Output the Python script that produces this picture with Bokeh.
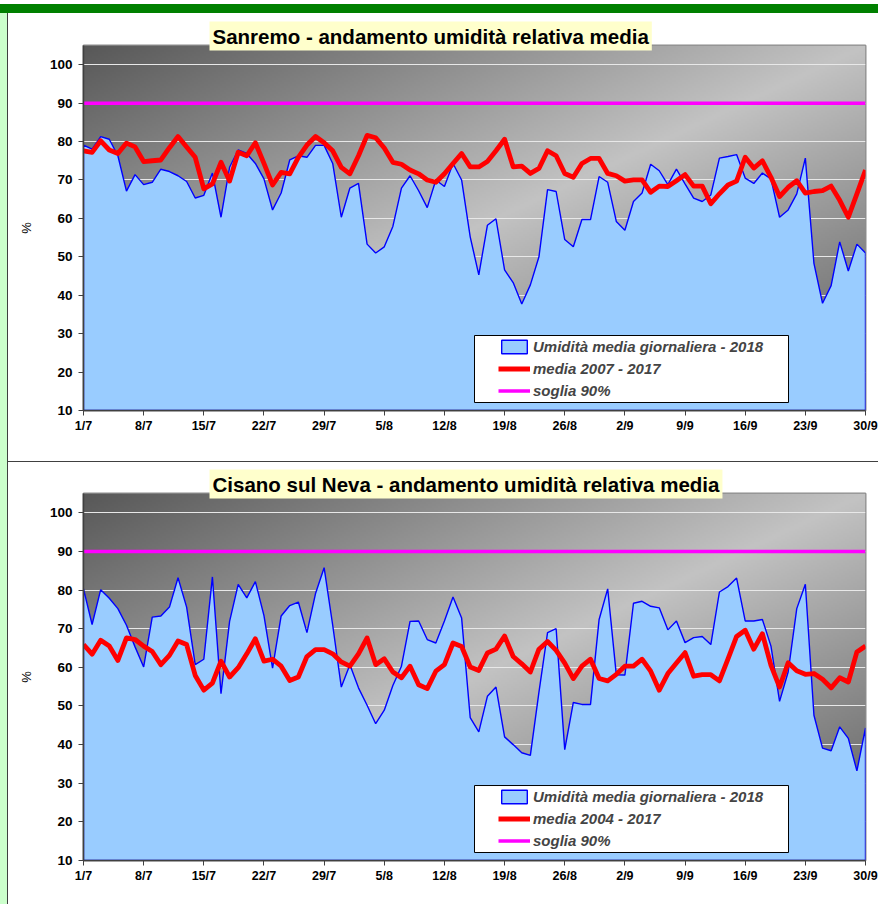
import numpy as np
from bokeh.plotting import figure
from bokeh.models import (FixedTicker, Title, Legend, LegendItem, BoxAnnotation,
                          Div, Range1d)
from bokeh.layouts import column, row
from bokeh.embed import file_html
from bokeh.resources import INLINE

# ---------------- data ----------------
days = list(range(92))  # 1/7 ... 30/9
tick_days = [0, 7, 14, 21, 28, 35, 42, 49, 56, 63, 70, 77, 84, 91]
tick_labels = ["1/7", "8/7", "15/7", "22/7", "29/7", "5/8", "12/8", "19/8",
               "26/8", "2/9", "9/9", "16/9", "23/9", "30/9"]
y_ticks = [10, 20, 30, 40, 50, 60, 70, 80, 90, 100]
soglia = 90

sanremo_2018 = [79.1, 78.0, 81.3, 80.6, 76.3, 67.1, 71.4, 68.8, 69.4, 72.8,
                72.2, 71.1, 69.6, 65.3, 66.0, 71.8, 60.3, 73.3, 77.8, 76.9,
                74.3, 70.3, 62.2, 66.6, 75.2, 76.3, 75.9, 79.0, 79.0, 74.3,
                60.3, 67.9, 69.1, 53.3, 51.0, 52.6, 57.9, 67.9, 71.1, 67.2,
                62.8, 70.0, 68.3, 74.3, 70.0, 55.2, 45.3, 58.2, 59.9, 46.6,
                43.3, 37.7, 42.7, 50.0, 67.5, 67.0, 54.5, 52.6, 59.7, 59.7,
                70.9, 69.4, 59.2, 56.9, 64.4, 66.6, 74.1, 72.4, 68.8, 72.8,
                69.0, 65.3, 64.4, 66.1, 75.7, 76.1, 76.6, 70.5, 69.1, 71.8,
                70.3, 60.3, 62.2, 66.4, 75.7, 48.3, 37.9, 42.5, 53.9, 46.3,
                53.3, 51.0]
sanremo_media = [77.6, 77.2, 80.2, 77.8, 76.9, 79.6, 78.6, 74.8, 75.0, 75.2,
                 78.4, 81.3, 78.6, 75.9, 67.7, 69.0, 74.6, 69.7, 77.2, 76.3,
                 79.7, 74.3, 68.7, 72.0, 71.6, 75.9, 79.1, 81.3, 79.7, 77.6,
                 73.3, 71.6, 76.3, 81.6, 81.0, 78.3, 74.6, 74.1, 72.6, 71.6,
                 70.0, 69.4, 71.6, 74.3, 76.9, 73.4, 73.4, 74.8, 77.6, 80.6,
                 73.4, 73.6, 71.7, 73.0, 77.6, 76.3, 71.7, 70.7, 74.3, 75.6,
                 75.6, 71.7, 71.1, 69.7, 70.0, 70.0, 66.8, 68.4, 68.3, 69.8,
                 71.4, 68.4, 68.4, 63.8, 66.4, 68.7, 69.7, 75.9, 73.1, 75.0,
                 70.7, 65.7, 68.1, 69.8, 66.6, 67.0, 67.2, 68.4, 64.7, 60.3,
                 66.4, 72.6]
cisano_2018 = [80.3, 71.1, 80.1, 77.9, 75.2, 70.9, 65.3, 60.1, 73.0, 73.3,
               75.6, 83.2, 75.6, 60.7, 62.1, 83.4, 53.2, 71.9, 81.5, 78.0,
               82.2, 73.4, 59.8, 73.3, 76.0, 76.9, 69.0, 79.1, 85.8, 70.9,
               54.9, 60.7, 54.7, 50.2, 45.4, 48.9, 55.3, 60.3, 71.9, 72.0,
               67.2, 66.3, 72.0, 78.2, 72.8, 47.0, 43.3, 52.5, 54.9, 42.0,
               40.0, 37.9, 37.2, 53.6, 69.0, 70.0, 38.7, 50.9, 50.4, 50.4,
               72.4, 80.3, 58.1, 58.0, 76.6, 77.1, 75.8, 75.4, 69.7, 72.0,
               66.4, 67.7, 68.0, 65.9, 79.5, 80.9, 83.1, 72.0, 72.0, 72.4,
               65.5, 51.2, 58.8, 75.2, 81.5, 47.6, 39.1, 38.4, 44.6, 41.6,
               33.2, 44.3]
cisano_media = [65.9, 63.4, 67.0, 65.5, 61.8, 67.6, 67.2, 65.5, 64.1, 60.7,
                63.1, 66.8, 65.9, 57.9, 54.1, 55.9, 61.6, 57.5, 59.9, 63.5,
                67.4, 61.6, 62.1, 60.3, 56.6, 57.5, 62.8, 64.6, 64.6, 63.5,
                61.4, 60.3, 63.5, 67.6, 60.7, 62.2, 58.8, 57.3, 60.3, 55.5,
                54.5, 59.0, 60.7, 66.3, 65.4, 60.1, 59.2, 63.7, 64.7, 68.1,
                62.8, 60.9, 58.8, 64.7, 66.7, 64.4, 61.1, 57.1, 60.3, 62.1,
                57.1, 56.5, 58.2, 60.3, 60.3, 62.1, 59.0, 54.1, 58.4, 61.1,
                63.8, 57.7, 58.1, 58.1, 56.5, 62.2, 68.0, 69.6, 64.7, 68.7,
                60.5, 54.9, 61.2, 59.1, 58.2, 58.4, 56.9, 54.7, 57.3, 56.2,
                64.0, 65.5]

FONT = "Liberation Sans"
Y0, Y1 = 10, 105
X0, X1 = days[0], days[-1]
FIG_W = 870


def gradient_image():
    H, W = 183, 391
    u = np.linspace(0.0, 1.0, W)[None, :]
    v = np.linspace(1.0, 0.0, H)[:, None]   # fraction from top (row 0 = bottom)
    t = (u + v) / 2.0
    c = (195.0 - 107.0 * np.abs(2.0 * t - 1.0)).astype(np.uint8)
    img = np.empty((H, W), dtype=np.uint32)
    view = img.view(dtype=np.uint8).reshape((H, W, 4))
    view[:, :, 0] = c
    view[:, :, 1] = c
    view[:, :, 2] = c
    view[:, :, 3] = 255
    return img


def make_panel(title, vals, media, media_label, height, border_top, border_bottom, box):
    p = figure(width=FIG_W, height=height, output_backend="svg", toolbar_location=None,
               tools="", x_range=Range1d(X0, X1), y_range=Range1d(Y0, Y1),
               min_border_left=75, min_border_right=13,
               min_border_top=border_top, min_border_bottom=border_bottom)
    p.background_fill_color = "white"
    p.border_fill_color = "white"
    p.outline_line_color = "#8c8c8c"
    p.outline_line_width = 2

    # gradient backdrop of the plot area
    g = p.image_rgba(image=[gradient_image()], x=X0, y=Y0, dw=X1 - X0, dh=Y1 - Y0)
    g.level = "image"

    # grid
    p.xgrid.visible = False
    p.ygrid.ticker = FixedTicker(ticks=y_ticks)
    p.ygrid.grid_line_color = "#e8e8e8"
    p.ygrid.grid_line_width = 1

    # blue area
    xs = [days[0]] + days + [days[-1]]
    ys = [Y0] + list(vals) + [Y0]
    area = p.patch(xs, ys, fill_color="#99ccff", line_color="#0000ff", line_width=1.4)
    red = p.line(days, media, line_color="#ff0000", line_width=4.8, line_join="round")
    mag = p.line([days[0], days[-1]], [soglia, soglia], line_color="#ff00ff", line_width=3.5)

    # axes
    p.xaxis.ticker = FixedTicker(ticks=tick_days)
    p.xaxis.major_label_overrides = {d: l for d, l in zip(tick_days, tick_labels)}
    p.yaxis.ticker = FixedTicker(ticks=y_ticks)
    for ax in (p.xaxis, p.yaxis):
        ax.axis_line_color = "#404040"
        ax.axis_line_width = 1.5
        ax.major_tick_line_color = "#404040"
        ax.major_tick_out = 5
        ax.major_tick_in = 0
        ax.minor_tick_line_color = None
        ax.major_label_text_font = FONT
        ax.major_label_text_font_style = "bold"
        ax.major_label_text_color = "black"
    p.xaxis.major_label_text_font_size = "12.5px"
    p.xaxis.major_label_standoff = 3
    p.yaxis.major_label_text_font_size = "13.5px"
    p.yaxis.major_label_standoff = 6
    p.yaxis.axis_label = "%"
    p.yaxis.axis_label_text_font = FONT
    p.yaxis.axis_label_text_font_style = "normal"
    p.yaxis.axis_label_text_font_size = "13px"
    p.yaxis.axis_label_text_color = "black"
    p.yaxis.axis_label_standoff = 13

    # title box
    p.add_layout(Title(text=title, align="left", offset=126, standoff=-10,
                       text_font=FONT, text_font_style="bold", text_font_size="20.5px",
                       text_color="black", background_fill_color="#ffffcc",
                       padding=3), "above")

    # legend frame + legend
    left, right, top, bottom = box
    p.add_layout(BoxAnnotation(left=left, right=right, top=top, bottom=bottom,
                               fill_color="white", fill_alpha=1.0,
                               line_color="black", line_width=1, line_alpha=1.0))
    legend = Legend(items=[
        LegendItem(label="Umidità media giornaliera - 2018", renderers=[area]),
        LegendItem(label=media_label, renderers=[red]),
        LegendItem(label="soglia 90%", renderers=[mag]),
    ], location=(415, 11), orientation="vertical", glyph_width=32, glyph_height=17,
        label_height=17, spacing=5, padding=0, margin=0, label_standoff=3,
        label_text_font=FONT, label_text_font_style="bold italic",
        label_text_font_size="15px", background_fill_alpha=0, border_line_alpha=0)
    p.add_layout(legend)
    return p


p1 = make_panel("Sanremo - andamento umidità relativa media", sanremo_2018,
                sanremo_media, "media 2007 - 2017", 448, 32, 51,
                (45.5, 82.04, 29.52, 12.08))
p2 = make_panel("Cisano sul Neva - andamento umidità relativa media", cisano_2018,
                cisano_media, "media 2004 - 2017", 442, 31, 44,
                (45.5, 82.04, 29.41, 12.07))

green = Div(text="", width=8 + FIG_W, height=13, margin=0,
            styles={"background": "linear-gradient(to bottom, white 0px, white 4px, "
                                  "#008000 4px, #008000 13px)"})
strip = Div(text="", width=8, height=448 + 1 + 442, margin=0,
            styles={"background": "linear-gradient(to right, #ccffcc 0px, #ccffcc 7px, "
                                  "#404040 7px, #404040 8px)"})
sep = Div(text="", width=FIG_W, height=1, margin=0,
          styles={"background-color": "#404040"})

layout = column(green, row(strip, column(p1, sep, p2, spacing=0), spacing=0), spacing=0)

open("out.html", "w").write(file_html(layout, INLINE))
